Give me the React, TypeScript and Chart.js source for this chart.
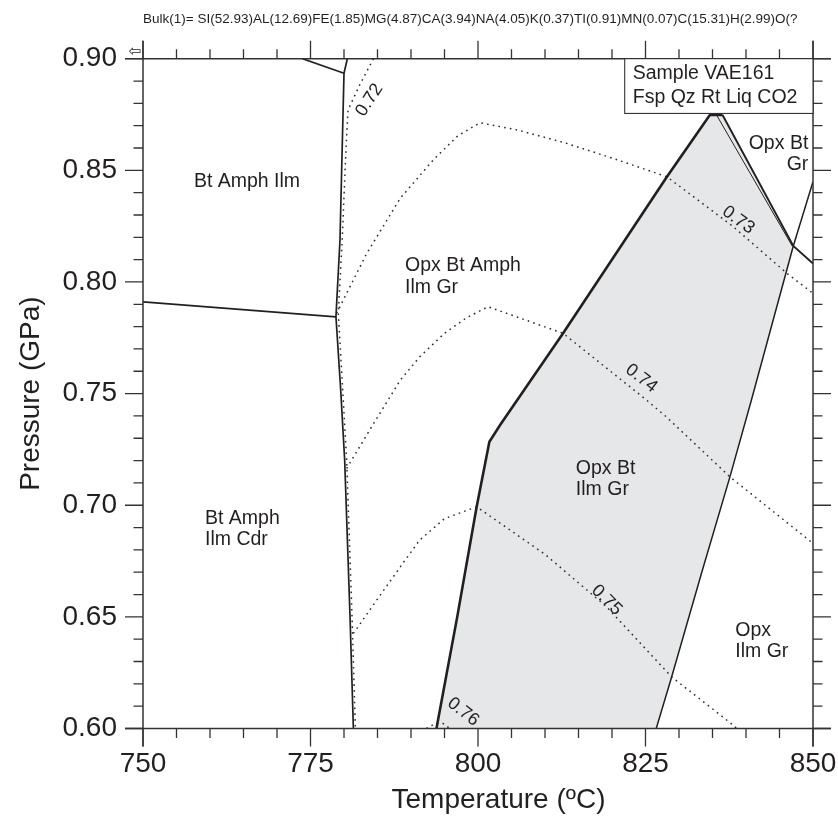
import { useEffect, useRef } from 'react';
import { Chart, registerables } from 'chart.js';

Chart.register(...registerables);

// ---- Axis ranges / tick labels ----
const T_MIN = 750;
const T_MAX = 850;
const P_MIN = 0.6;
const P_MAX = 0.9;
const T_MAJOR = 25;
const T_MINOR = 5;
const P_MAJOR = 0.05;
const P_MINOR_COUNT = 30; // 0.01 GPa minor ticks

// ---- Phase-field boundaries [T (°C), P (GPa)] ----
const bulkText =
  'Bulk(1)= SI(52.93)AL(12.69)FE(1.85)MG(4.87)CA(3.94)NA(4.05)K(0.37)TI(0.91)MN(0.07)C(15.31)H(2.99)O(?';

const shadedField: [number, number][] = [
  [793.8, 0.6], [796.9, 0.65], [799.8, 0.6993], [801.7, 0.7284], [812.7, 0.777],
  [828.2, 0.8471], [834.6, 0.8748], [836.5, 0.8748], [847.06, 0.8161],
  [840.8, 0.747], [837.6, 0.7127], [833.4, 0.67], [828.9, 0.6231], [826.6, 0.6],
  [793.8, 0.6],
];
const topLeftSeg: [number, number][] = [[773.8, 0.9], [780.0, 0.8935]];
const verticalBoundary: [number, number][] = [
  [780.5, 0.9], [780.0, 0.8935], [779.4, 0.8188], [778.8, 0.7844], [779.5, 0.752],
  [780.1, 0.7202], [780.9, 0.65], [781.4, 0.6],
];
const leftHorizontal: [number, number][] = [[750, 0.7911], [778.8, 0.7844]];
const shadedLeftEdge: [number, number][] = [
  [793.8, 0.6], [796.9, 0.65], [799.8, 0.6993], [801.7, 0.7284], [803.3, 0.7359],
  [812.7, 0.777], [828.2, 0.8471], [834.6, 0.8748], [836.5, 0.8748],
];
const shadedUpperRight: [number, number][] = [[836.5, 0.8748], [847.06, 0.8161], [850, 0.8083]];
const shadedUpperRightThin: [number, number][] = [[835.6, 0.8748], [846.9, 0.8161]];
const shadedLowerRight: [number, number][] = [
  [847.06, 0.8161], [840.8, 0.747], [837.6, 0.7127], [833.4, 0.67], [828.9, 0.6231], [826.6, 0.6],
];
const rightUpSeg: [number, number][] = [[847.06, 0.8161], [850, 0.8449]];

// ---- Isopleths (dotted) ----
const iso072: [number, number][] = [
  [784.4, 0.9], [782.3, 0.888], [780.6, 0.877], [780.3, 0.86], [779.75, 0.82],
  [779.15, 0.786], [779.8, 0.752], [780.4, 0.72], [781.2, 0.65], [781.7, 0.6],
];
const iso073: [number, number][] = [
  [778.9, 0.786], [783.4, 0.8128], [788.4, 0.8375], [793.3, 0.8546], [797.0, 0.8655],
  [800.3, 0.8713], [806.0, 0.868], [813.2, 0.8621], [820.0, 0.8555], [828.2, 0.8471],
  [838.0, 0.825], [846.1, 0.8039], [850, 0.7949],
];
const iso074: [number, number][] = [
  [780.4, 0.7165], [784.5, 0.737], [788.4, 0.756], [791.3, 0.7665], [795.0, 0.777],
  [798.3, 0.784], [801.5, 0.7889], [812.7, 0.777], [825.2, 0.747], [828.1, 0.7396],
  [837.6, 0.7127], [850, 0.6829],
];
const iso075: [number, number][] = [
  [781.4, 0.6426], [785.0, 0.658], [788.4, 0.6724], [791.3, 0.6844], [795.0, 0.694],
  [799.8, 0.6993], [810.0, 0.678], [819.2, 0.6545], [828.9, 0.6231], [838.1, 0.6015],
  [838.6, 0.6],
];
const iso076: [number, number][] = [[792.3, 0.6], [793.6, 0.6022], [794.8, 0.6022], [795.8, 0.6]];

// ---- Text annotations ----
const fieldLabels = [
  { t: 757.6, p: 0.8449, lines: ['Bt Amph Ilm'], align: 'left' },
  { t: 789.1, p: 0.8073, lines: ['Opx Bt Amph', 'Ilm Gr'], align: 'left' },
  { t: 759.25, p: 0.6941, lines: ['Bt Amph', 'Ilm Cdr'], align: 'left' },
  { t: 814.6, p: 0.7165, lines: ['Opx Bt', 'Ilm Gr'], align: 'left' },
  { t: 838.4, p: 0.644, lines: ['Opx', 'Ilm Gr'], align: 'left' },
  { t: 849.3, p: 0.8621, lines: ['Opx Bt', 'Gr'], align: 'right' },
];
const isoLabels = [
  { t: 783.8, p: 0.8815, text: '0.72', angle: -57 },
  { t: 838.85, p: 0.8277, text: '0.73', angle: 36 },
  { t: 824.4, p: 0.7568, text: '0.74', angle: 38 },
  { t: 819.2, p: 0.6575, text: '0.75', angle: 45 },
  { t: 797.8, p: 0.6074, text: '0.76', angle: 38 },
];
const sampleBox = { t: 821.9, p: 0.8755, lines: ['Sample VAE161', 'Fsp Qz Rt Liq CO2'] };
const xTitle = 'Temperature (ºC)';
const yTitle = 'Pressure (GPa)';

const FONT = '"Liberation Sans", Arial, Helvetica, sans-serif';
const INK = '#231f20';

const toXY = (arr: [number, number][]) => arr.map(([x, y]) => ({ x, y }));

const solid = (data: [number, number][], width: number) => ({
  data: toXY(data),
  showLine: true,
  borderColor: INK,
  borderWidth: width,
  pointRadius: 0,
  fill: false,
  order: 1,
});
const dotted = (data: [number, number][]) => ({
  data: toXY(data),
  showLine: true,
  borderColor: '#2a2a2a',
  borderWidth: 1.5,
  borderDash: [1.6, 4.2],
  pointRadius: 0,
  fill: false,
  order: 2,
});

const overlay = {
  id: 'overlay',
  afterDraw(chart: any) {
    const { ctx, chartArea: a, scales } = chart;
    const sx = scales.x;
    const sy = scales.y;
    ctx.save();
    ctx.strokeStyle = '#333';
    ctx.lineWidth = 1.5;
    ctx.lineCap = 'butt';
    const ext = 18;
    // frame
    ctx.beginPath();
    ctx.moveTo(a.left - ext, a.top); ctx.lineTo(a.right + ext, a.top);
    ctx.moveTo(a.left - ext, a.bottom); ctx.lineTo(a.right + ext, a.bottom);
    ctx.moveTo(a.left, a.top - ext); ctx.lineTo(a.left, a.bottom + ext);
    ctx.moveTo(a.right, a.top - ext); ctx.lineTo(a.right, a.bottom + ext);
    ctx.stroke();
    // ticks
    ctx.lineWidth = 1.3;
    ctx.beginPath();
    for (let v = T_MIN; v <= T_MAX; v += T_MINOR) {
      const len = v % T_MAJOR === 0 ? 18 : 9.5;
      const px = sx.getPixelForValue(v);
      ctx.moveTo(px, a.bottom); ctx.lineTo(px, a.bottom + len);
      ctx.moveTo(px, a.top); ctx.lineTo(px, a.top - len);
    }
    for (let i = 0; i <= P_MINOR_COUNT; i++) {
      const v = P_MIN + (i * (P_MAX - P_MIN)) / P_MINOR_COUNT;
      const len = i % 5 === 0 ? 18 : 9.5;
      const py = sy.getPixelForValue(v);
      ctx.moveTo(a.left, py); ctx.lineTo(a.left - len, py);
      ctx.moveTo(a.right, py); ctx.lineTo(a.right + len, py);
    }
    ctx.stroke();

    // sample box
    const bx = sx.getPixelForValue(sampleBox.t);
    const by = sy.getPixelForValue(sampleBox.p);
    ctx.fillStyle = '#fff';
    ctx.fillRect(bx, a.top, a.right - bx, by - a.top);
    ctx.strokeStyle = INK;
    ctx.lineWidth = 1;
    ctx.strokeRect(bx, a.top, a.right - bx, by - a.top);
    ctx.fillStyle = INK;
    ctx.font = `19.5px ${FONT}`;
    ctx.textAlign = 'left';
    ctx.textBaseline = 'middle';
    ctx.fillText(sampleBox.lines[0], bx + 8, a.top + 15);
    ctx.fillText(sampleBox.lines[1], bx + 8, a.top + 38.5);

    // field labels
    for (const f of fieldLabels) {
      const px = sx.getPixelForValue(f.t);
      const py = sy.getPixelForValue(f.p);
      ctx.textAlign = f.align as CanvasTextAlign;
      f.lines.forEach((ln, k) => ctx.fillText(ln, px, py + k * 21.5));
    }

    // isopleth labels
    ctx.font = `18px ${FONT}`;
    ctx.textAlign = 'center';
    for (const l of isoLabels) {
      const px = sx.getPixelForValue(l.t);
      const py = sy.getPixelForValue(l.p);
      ctx.save();
      ctx.translate(px, py);
      ctx.rotate((l.angle * Math.PI) / 180);
      ctx.fillText(l.text, 0, 0);
      ctx.restore();
    }

    // bulk composition line
    ctx.font = `13.5px ${FONT}`;
    ctx.textAlign = 'left';
    ctx.textBaseline = 'alphabetic';
    ctx.fillText(bulkText, a.left, 22.7);

    // small corner symbol
    ctx.font = `15px "DejaVu Sans", sans-serif`;
    ctx.textAlign = 'center';
    ctx.textBaseline = 'middle';
    ctx.fillText('⇦', a.left - 8, a.top - 7);

    // axis titles
    ctx.font = `28px ${FONT}`;
    ctx.textAlign = 'left';
    ctx.textBaseline = 'middle';
    ctx.fillText(xTitle, 391.5, 800);
    ctx.save();
    ctx.translate(31, (a.top + a.bottom) / 2);
    ctx.rotate(-Math.PI / 2);
    ctx.textAlign = 'center';
    ctx.fillText(yTitle, 0, 0);
    ctx.restore();

    ctx.restore();
  },
};

export default function App() {
  const ref = useRef<HTMLCanvasElement>(null);
  useEffect(() => {
    document.body.style.margin = '0';
    const canvas = ref.current;
    if (!canvas) return;
    const chart = new Chart(canvas, {
      type: 'scatter',
      data: {
        datasets: [
          {
            data: toXY(shadedField),
            showLine: true,
            borderWidth: 0,
            borderColor: 'rgba(0,0,0,0)',
            backgroundColor: '#e6e7e9',
            fill: 'shape',
            pointRadius: 0,
            order: 10,
          } as any,
          dotted(iso072),
          dotted(iso073),
          dotted(iso074),
          dotted(iso075),
          dotted(iso076),
          solid(topLeftSeg, 1.7),
          solid(verticalBoundary, 1.7),
          solid(leftHorizontal, 1.7),
          solid(shadedLeftEdge, 2.6),
          solid(shadedUpperRight, 1.9),
          solid(shadedUpperRightThin, 1.0),
          solid(shadedLowerRight, 1.5),
          solid(rightUpSeg, 1.5),
        ],
      },
      plugins: [overlay],
      options: {
        animation: false,
        responsive: false,
        events: [],
        layout: { padding: 0 },
        plugins: {
          legend: { display: false },
          tooltip: { enabled: false },
          title: { display: false },
        },
        scales: {
          x: {
            type: 'linear',
            position: 'bottom',
            min: T_MIN,
            max: T_MAX,
            ticks: {
              stepSize: T_MAJOR,
              color: INK,
              font: { family: FONT, size: 28 },
              padding: 1,
              maxRotation: 0,
            },
            grid: { display: false, drawTicks: true, tickLength: 18 },
            border: { display: false },
            afterFit: (s: any) => { s.height = 89.5; },
          },
          xTop: {
            type: 'linear',
            position: 'top',
            min: T_MIN,
            max: T_MAX,
            ticks: { display: false },
            grid: { display: false },
            border: { display: false },
            afterFit: (s: any) => { s.height = 58.7; },
          },
          y: {
            type: 'linear',
            position: 'left',
            min: P_MIN,
            max: P_MAX,
            ticks: {
              stepSize: P_MAJOR,
              color: INK,
              font: { family: FONT, size: 28 },
              padding: 8,
              callback: (v: any) => Number(v).toFixed(2),
            },
            grid: { display: false, drawTicks: true, tickLength: 18 },
            border: { display: false },
            afterFit: (s: any) => { s.width = 143; },
          },
          yRight: {
            type: 'linear',
            position: 'right',
            min: P_MIN,
            max: P_MAX,
            ticks: { display: false },
            grid: { display: false },
            border: { display: false },
            afterFit: (s: any) => { s.width = 25; },
          },
        },
      } as any,
    });
    return () => chart.destroy();
  }, []);
  return (
    <div style={{ width: 838, height: 818, background: '#fff' }}>
      <canvas ref={ref} width={838} height={818} style={{ display: 'block' }} />
    </div>
  );
}
